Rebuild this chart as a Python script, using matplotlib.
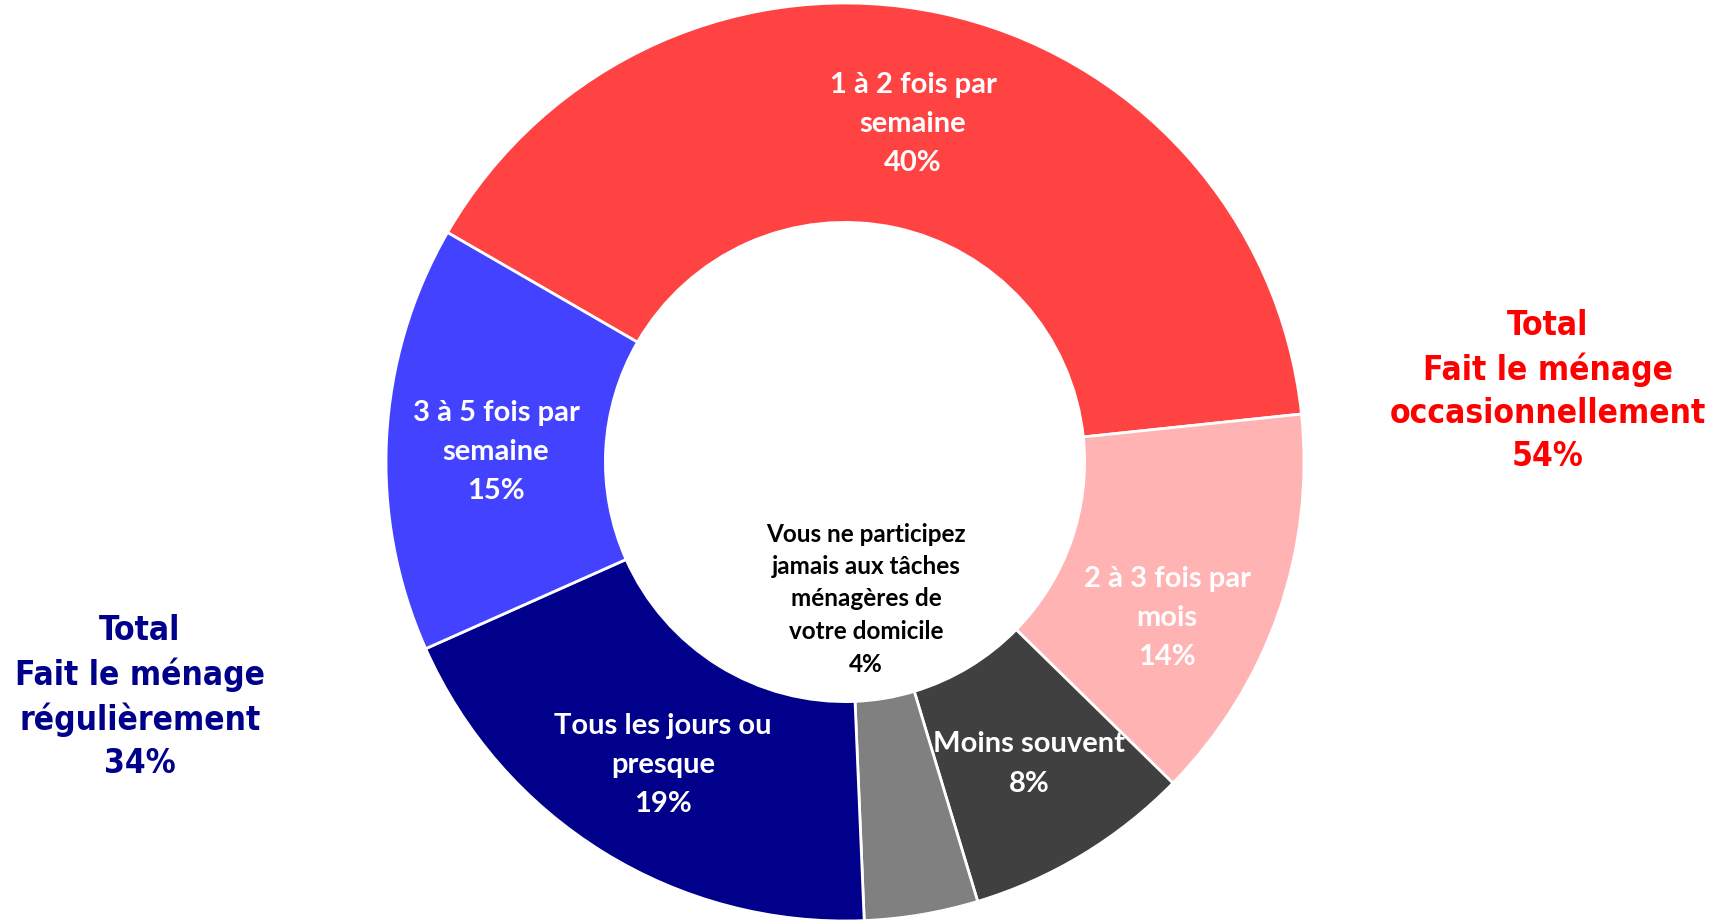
import matplotlib.pyplot as plt

# --- données ---
categories = ["1 à 2 fois par\nsemaine", "2 à 3 fois par\nmois", "Moins souvent",
              "Vous ne participez\njamais aux tâches\nménagères de\nvotre domicile",
              "Tous les jours ou\npresque", "3 à 5 fois par\nsemaine"]
values = [40, 14, 8, 4, 19, 15]
colors = ["#FF4343", "#FFB3B3", "#404040", "#808080", "#00008B", "#4343FF"]
label_colors = ["white", "white", "white", "black", "white", "white"]
# positions des étiquettes (pixels, origine en haut à gauche)
label_pos = [(913, 124), (1167, 618), (1029, 764), (866, 599), (663, 765), (496, 452)]

total_left = "Total\nFait le ménage\nrégulièrement\n34%"
total_right = "Total\nFait le ménage\noccasionnellement\n54%"

W, H = 1722, 922
fig = plt.figure(figsize=(W / 100, H / 100), dpi=100)
ax = fig.add_axes([0, 0, 1, 1])

R = 459
ax.pie(values, colors=colors, startangle=150, counterclock=False,
       center=(845, H - 462), radius=R,
       wedgeprops=dict(width=R * 0.478, edgecolor="white", linewidth=2))

for txt, v, c, (x, y) in zip(categories, values, label_colors, label_pos):
    ax.text(x, H - y, f"{txt}\n{v}%", color=c, ha="center", va="center",
            fontsize=21 if c == "white" else 17.5, fontweight="bold",
            family="Lato", linespacing=1.63 if c == "white" else 1.5)

for txt, col, (x, y) in [(total_left, "#00008B", (140, 697)),
                         (total_right, "#FF0000", (1548, 391))]:
    ax.text(x, H - y, txt, color=col, ha="center", va="center",
            fontsize=24, fontweight="bold", family="DejaVu Sans",
            fontstretch="condensed", linespacing=1.38)

ax.set_xlim(0, W)
ax.set_ylim(0, H)
ax.set_aspect("equal")
ax.axis("off")

fig.savefig("out.png", dpi=100)
